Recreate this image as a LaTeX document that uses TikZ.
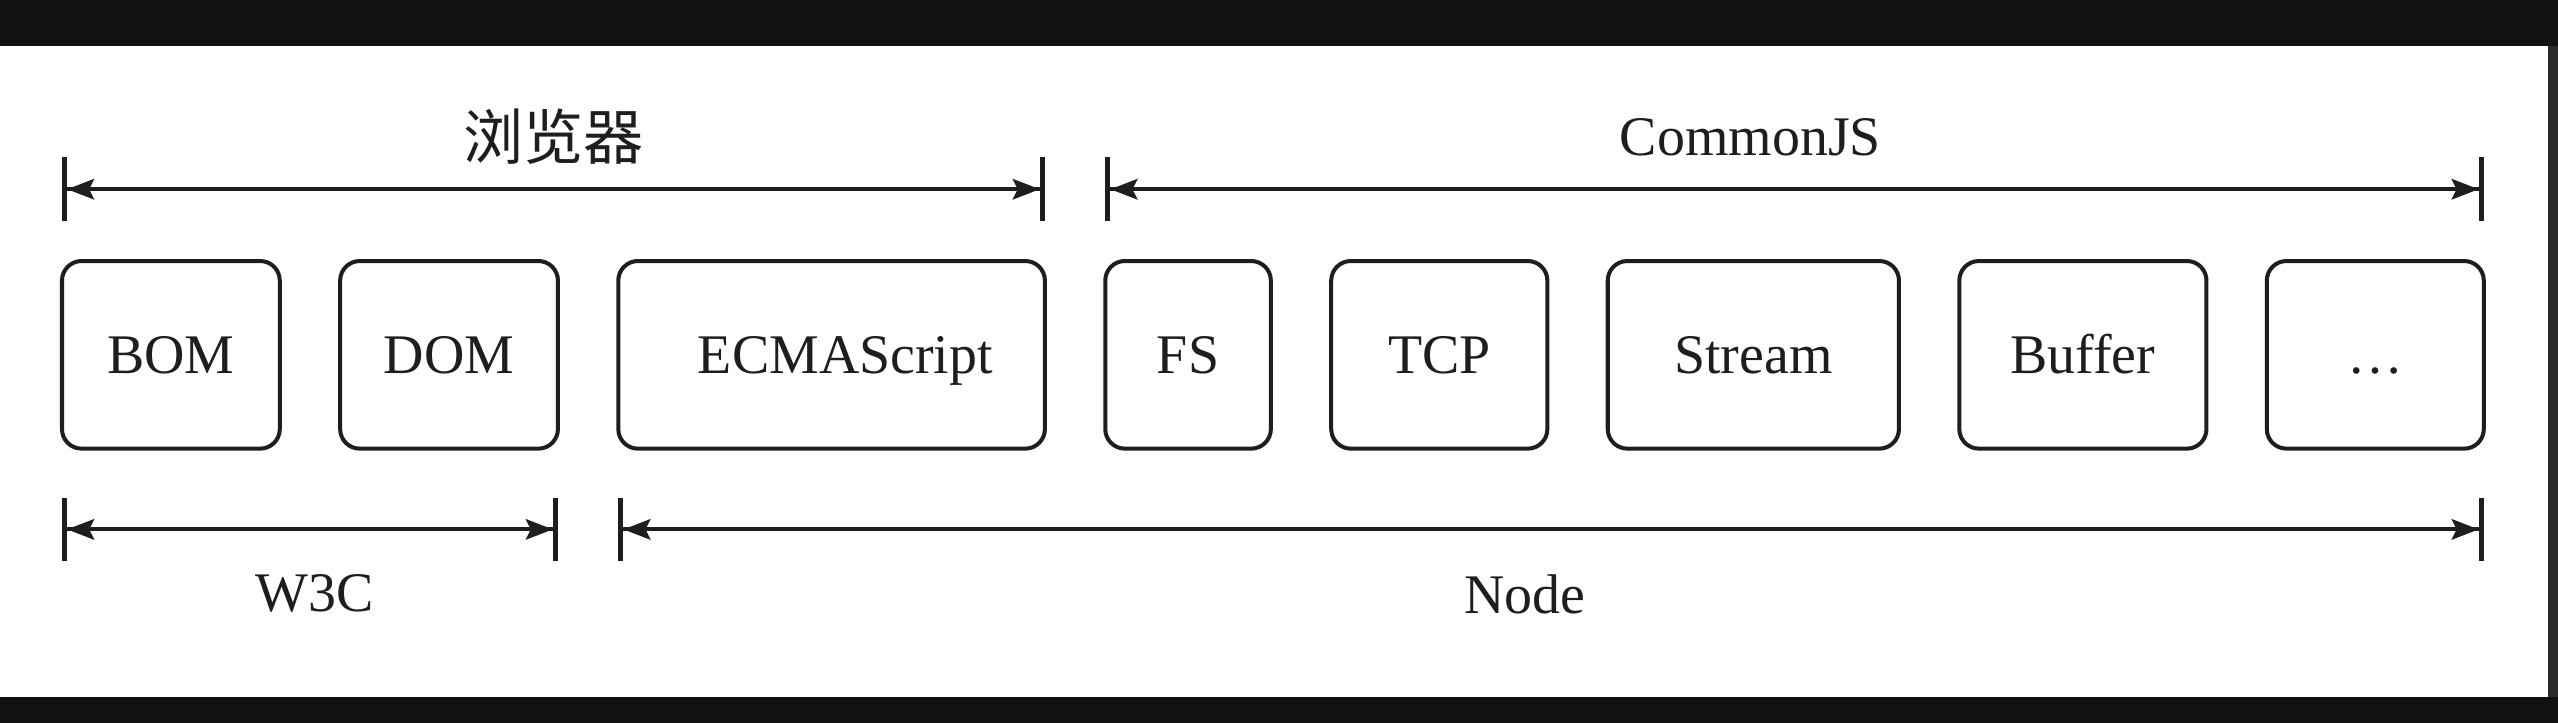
\documentclass[tikz,border=0pt]{standalone}
\usepackage{fontspec}
\setmainfont{Liberation Serif}
\newfontfamily\cjk{Noto Sans CJK SC}
\usetikzlibrary{arrows.meta, positioning, calc}
\definecolor{bandblack}{HTML}{111111}
\definecolor{bandgrey}{HTML}{2B2B2B}
\definecolor{ink}{HTML}{1E1E1E}

\begin{document}
\begin{tikzpicture}[ every node/.style = {font=\fontsize{19.5}{23}\selectfont, text=ink},
    module/.style = {draw=ink, line width=1.4pt, rounded corners=0.24cm,
      minimum height=2.3cm, inner sep=0pt, outer sep=0pt,
      text height=0.45cm, text depth=0pt},
    span/.style = {draw=ink, line width=1.4pt,
      {Bar[width=0.78cm, line width=1.8pt] Stealth[length=0.33cm, width=0.25cm, inset=0.06cm]}-{Stealth[length=0.33cm, width=0.25cm, inset=0.06cm] Bar[width=0.78cm, line width=1.8pt]}},
  ]
  % background bands
  \fill[bandblack] (0,0) rectangle (31.36,-8.86);
  \fill[bandgrey] (31.18,-0.56) rectangle (31.36,-8.54);
  \fill[white] (0,-0.56) rectangle (31.24,-8.54);
  \useasboundingbox (0,0) rectangle (31.36,-8.86);

  % modules
  \node[module, minimum width=2.67cm] (BOM) at (2.095,-4.35) {BOM};
  \node[module, minimum width=2.67cm, right=0.74cm of BOM] (DOM) {DOM};
  \node[module, minimum width=5.23cm, right=0.74cm of DOM] (ECMA) {\hspace{0.34cm}ECMAScript};
  \node[module, minimum width=2.03cm, right=0.74cm of ECMA] (FS) {FS};
  \node[module, minimum width=2.65cm, right=0.74cm of FS] (TCP) {TCP};
  \node[module, minimum width=3.57cm, right=0.74cm of TCP] (Stream) {Stream};
  \node[module, minimum width=3.03cm, right=0.74cm of Stream] (Buffer) {Buffer};
  \node[module, minimum width=2.66cm, right=0.74cm of Buffer] (More) {\dots};

  % spans
  \draw[span] ([yshift=0.88cm]BOM.north west) -- ([yshift=0.88cm]ECMA.north east)
    node[midway, yshift=0.64cm] {\cjk\fontsize{21}{24}\selectfont 浏览器};
  \draw[span] ([yshift=0.88cm]FS.north west) -- ([yshift=0.88cm]More.north east)
    node[pos=0.468, yshift=0.64cm] {CommonJS};
  \draw[span] ([yshift=-0.99cm]BOM.south west) -- ([yshift=-0.99cm]DOM.south east)
    node[pos=0.51, yshift=-0.78cm] {W3C};
  \draw[span] ([yshift=-0.99cm]ECMA.south west) -- ([yshift=-0.99cm]More.south east)
    node[pos=0.486, yshift=-0.8cm] {Node};
\end{tikzpicture}
\end{document}
